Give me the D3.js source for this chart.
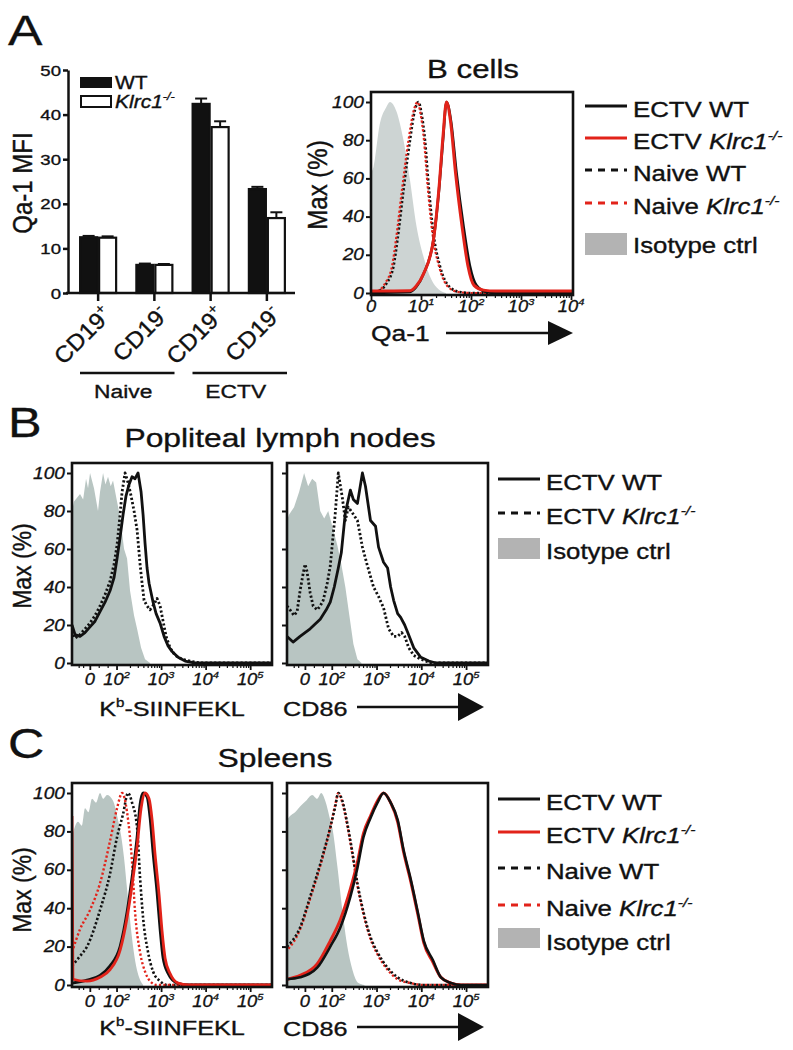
<!DOCTYPE html>
<html><head><meta charset="utf-8">
<script src="https://cdn.jsdelivr.net/npm/d3@7"></script>
<style>
html,body{margin:0;padding:0;background:#fff;}
svg{display:block;font-family:"Liberation Sans",Arial,sans-serif;}
</style></head><body>
<svg id="fig" width="793" height="1050"></svg>
<script>
// ---------------- DATA ----------------
// Panel A bar chart (Qa-1 MFI)
const barGroups = ["CD19+ Naive", "CD19- Naive", "CD19+ ECTV", "CD19- ECTV"];
const barSupers = ["+", "-", "+", "-"];
const barSeries = ["WT", "KO"];
const wtMFI = [12.5, 6.3, 42.4, 23.3];
const koMFI = [12.4, 6.3, 37.2, 16.8];
const wtSEM = [0.3, 0.3, 1.2, 0.5];
const koSEM = [0.3, 0.2, 1.3, 1.3];
const mfiTicks = [0, 10, 20, 30, 40, 50];
const pctTicks = [0, 20, 40, 60, 80, 100];

// Histogram x ticks (display decades)
const qaTicks = [[0, "0", ""], [1, "10", "1"], [2, "10", "2"], [3, "10", "3"], [4, "10", "4"]];
const biexTicks = [[1.4, "0", ""], [2, "10", "2"], [3, "10", "3"], [4, "10", "4"], [5, "10", "5"]];

// Panel A histogram: Qa-1 on B cells  [decade, Max %]
const qaIso = [[0,63],[0.05,66],[0.18,89],[0.3,97],[0.38,100],[0.51,95],[0.65,80],[0.78,59],[0.91,35],[1.05,19],[1.21,7],[1.35,2],[1.5,0]];
const qaNaiveWT = [[0,0],[0.11,0.5],[0.31,5],[0.45,14],[0.53,28],[0.65,54],[0.78,80],[0.88,96],[0.95,100],[1.01,94],[1.08,80],[1.15,57],[1.25,31],[1.38,14],[1.58,3],[1.78,0.5],[2.0,0],[4.04,0]];
const qaNaiveKO = [[0,0],[0.1,0.5],[0.28,5],[0.42,14],[0.5,28],[0.62,54],[0.75,80],[0.86,96],[0.93,100],[0.99,94],[1.06,80],[1.13,57],[1.23,31],[1.36,14],[1.55,3],[1.75,0.5],[2.0,0],[4.04,0]];
const qaEctvWT = [[0,0],[0.78,0.5],[0.9,3],[1.05,10],[1.25,28],[1.36,54],[1.44,80],[1.51,100],[1.6,90],[1.71,63],[1.85,35],[1.98,14],[2.11,4],[2.31,0.5],[2.5,0],[4.04,0]];
const qaEctvKO = [[0,1],[0.78,1.2],[0.9,3.5],[1.05,10],[1.25,28],[1.36,55],[1.44,82],[1.51,100],[1.59,90],[1.69,63],[1.82,35],[1.94,14],[2.06,4],[2.25,1.5],[2.5,1],[4.04,1]];

// Panel B: popliteal lymph nodes
const lnKbIso = [[1.00,80],[1.045,85],[1.18,89],[1.25,86],[1.315,97],[1.36,92],[1.405,100],[1.494,92],[1.584,80],[1.629,90],[1.697,100],[1.75,94],[1.809,98],[1.87,93],[1.921,96],[2.011,85],[2.079,77],[2.169,60],[2.236,55],[2.303,38],[2.393,25],[2.461,18],[2.551,8],[2.64,2],[2.753,0]];
const lnKbWT = [[1.00,20],[1.067,15],[1.18,14],[1.292,16],[1.404,19],[1.517,22],[1.629,27],[1.742,32],[1.854,38],[1.944,45],[2.011,55],[2.079,66],[2.146,78],[2.213,88],[2.281,94],[2.348,98],[2.416,97],[2.483,100],[2.551,90],[2.596,78],[2.64,63],[2.685,50],[2.73,42],[2.775,37],[2.82,32],[2.888,26],[2.978,21],[3.067,14],[3.157,9],[3.247,6],[3.382,3],[3.539,1],[3.764,0],[5.5,0]];
const lnKbKO = [[1.00,17],[1.067,13],[1.18,15],[1.292,18],[1.404,21],[1.517,25],[1.629,30],[1.742,36],[1.854,43],[1.944,52],[2.011,62],[2.079,78],[2.124,90],[2.191,100],[2.258,95],[2.326,88],[2.393,80],[2.461,70],[2.528,52],[2.573,42],[2.618,33],[2.685,30],[2.753,28],[2.843,31],[2.91,34],[2.978,30],[3.045,22],[3.112,14],[3.202,8],[3.315,4],[3.472,2],[3.652,1],[3.876,0],[5.5,0]];
const lnCdIso = [[1.00,75],[1.045,78],[1.157,82],[1.27,90],[1.382,100],[1.472,93],[1.562,97],[1.652,95],[1.742,80],[1.831,76],[1.921,80],[2.011,72],[2.124,62],[2.213,52],[2.303,40],[2.393,25],[2.483,10],[2.573,2],[2.663,0]];
const lnCdWT = [[1.00,14],[1.135,11],[1.292,14],[1.517,18],[1.742,23],[1.876,28],[1.966,32],[2.056,40],[2.146,50],[2.213,58],[2.303,79],[2.416,91],[2.483,86],[2.573,84],[2.685,100],[2.753,93],[2.865,75],[2.978,72],[3.045,61],[3.157,53],[3.247,50],[3.315,40],[3.382,33],[3.472,26],[3.539,24],[3.629,20],[3.697,16],[3.831,8],[3.989,3],[4.169,1],[4.326,0],[5.5,0]];
const lnCdKO = [[1.00,30],[1.067,28],[1.157,25],[1.225,27],[1.292,38],[1.36,47],[1.404,52],[1.449,48],[1.517,37],[1.584,30],[1.674,28],[1.742,30],[1.809,33],[1.899,42],[1.966,51],[2.034,68],[2.079,79],[2.146,100],[2.236,87],[2.303,75],[2.371,82],[2.461,79],[2.573,75],[2.685,61],[2.798,51],[2.933,40],[3.045,35],[3.157,29],[3.27,18],[3.382,14],[3.472,14],[3.562,16],[3.629,14],[3.719,8],[3.831,4],[3.989,2],[4.213,0],[5.5,0]];

// Panel C: spleens
const spKbIso = [[1.00,77],[1.135,85],[1.22,83],[1.292,92],[1.37,90],[1.449,97],[1.54,95],[1.629,100],[1.7,97],[1.787,99],[1.921,96],[2.034,86],[2.101,78],[2.169,66],[2.236,50],[2.303,34],[2.371,20],[2.438,10],[2.506,4],[2.596,0]];
const spKbWT = [[1.00,1],[1.337,2.5],[1.629,5],[1.854,10],[2.079,20],[2.236,38],[2.348,56],[2.461,77],[2.528,94],[2.596,100],[2.685,98],[2.753,87],[2.82,69],[2.91,48],[2.978,29],[3.045,14],[3.157,6],[3.36,1],[3.584,0],[5.5,0]];
const spKbKO = [[1.00,88],[1.02,3],[1.337,2],[1.629,4],[1.854,8],[2.079,18],[2.236,35],[2.348,52],[2.461,72],[2.551,92],[2.64,100],[2.73,97],[2.798,86],[2.865,68],[2.955,47],[3.022,28],[3.09,14],[3.202,6],[3.382,1],[3.607,0],[5.5,0]];
const spKbNaiveWT = [[1.00,10],[1.18,15],[1.337,20],[1.629,39],[1.854,58],[2.011,77],[2.146,89],[2.258,100],[2.348,95],[2.461,82],[2.528,56],[2.596,35],[2.708,17],[2.82,7],[2.978,2],[3.135,0],[5.5,0]];
const spKbNaiveKO = [[1.00,17],[1.18,29],[1.404,39],[1.629,53],[1.854,75],[2.011,92],[2.124,100],[2.236,90],[2.348,64],[2.416,38],[2.528,17],[2.64,7],[2.753,2],[2.91,0],[5.5,0]];
const spCdIso = [[1.00,86],[1.067,88],[1.18,90],[1.292,93],[1.427,96],[1.562,99],[1.674,97],[1.764,100],[1.854,96],[1.966,86],[2.011,82],[2.124,62],[2.236,39],[2.348,20],[2.461,8],[2.596,1],[2.73,0]];
const spCdNaiveWT = [[1.00,20],[1.292,30],[1.517,46],[1.742,63],[1.966,82],[2.079,93],[2.146,100],[2.236,96],[2.348,84],[2.461,69],[2.573,53],[2.708,38],[2.865,25],[3.022,17],[3.247,9],[3.472,4],[3.764,1],[4.056,0],[5.5,0]];
const spCdNaiveKO = [[1.00,18],[1.292,29],[1.517,45],[1.742,62],[1.966,82],[2.079,94],[2.146,100],[2.236,95],[2.348,83],[2.461,68],[2.573,52],[2.708,37],[2.865,24],[3.022,16],[3.247,8],[3.472,3],[3.764,1],[4.056,0],[5.5,0]];
const spCdWT = [[1.00,3],[1.292,4],[1.674,9],[1.966,20],[2.191,30],[2.416,46],[2.573,61],[2.708,77],[2.865,87],[3.022,95],[3.157,100],[3.315,95],[3.472,86],[3.607,70],[3.764,55],[3.921,38],[4.056,23],[4.258,13],[4.438,4],[4.663,1],[4.888,0],[5.5,0]];
const spCdKO = [[1.00,3],[1.292,5],[1.674,11],[1.966,23],[2.191,34],[2.416,50],[2.573,64],[2.708,79],[2.865,88],[3.022,96],[3.157,100],[3.315,95],[3.472,85],[3.607,69],[3.764,54],[3.921,37],[4.056,22],[4.258,12],[4.438,4],[4.663,1],[4.888,0],[5.5,0]];

// Legend labels
const legFull = ["ECTV WT", "ECTV Klrc1", "Naive WT", "Naive Klrc1", "Isotype ctrl"];
const legLN = ["ECTV WT", "ECTV Klrc1", "Isotype ctrl"];

// ---------------- DRAWING ----------------
const svg = d3.select("#fig");
const INK = "#111";
const RED = "#e2231a";
const GRAY_A = "#cdd4d3";
const GRAY_BC = "#b8c5c2";
const GRAY_LEG = "#b3b3b3";

function T(parent, x, y, parts, o = {}) {
  const size = o.size || 16;
  const sx = o.sx ?? 1.2, sy = o.sy ?? 1;
  let tf = `translate(${x},${y})`;
  if (o.rot) tf += ` rotate(${o.rot})`;
  tf += ` scale(${sx},${sy})`;
  const t = parent.append("text").attr("transform", tf)
    .attr("text-anchor", o.anchor || "start")
    .attr("font-size", size).attr("fill", INK)
    .attr("stroke", INK).attr("stroke-width", o.sw ?? 0.35);
  if (o.italic) t.attr("font-style", "italic");
  if (typeof parts === "string") parts = [parts];
  let raised = false;
  parts.forEach(p => {
    if (typeof p === "string") p = { t: p };
    const s = t.append("tspan").text(p.t);
    if (p.italic) s.attr("font-style", "italic");
    if (p.sup) { s.attr("font-size", size * 0.6).attr("dy", -size * 0.42); raised = true; }
    else if (raised) { s.attr("dy", size * 0.42); raised = false; }
  });
  return t;
}
const klrc = (prefix) => [prefix + " ", { t: "Klrc1", italic: true }, { t: "-/-", sup: true, italic: true }];
function legendParts(s) {
  if (s.endsWith("Klrc1")) return klrc(s.replace(" Klrc1", ""));
  return [s];
}

// Panel letters
T(svg, 8, 45, "A", { size: 43, sw: 0.3 });
T(svg, 8, 437, "B", { size: 42, sw: 0.3 });
T(svg, 8, 758, "C", { size: 42, sw: 0.3 });

// ===== Panel A bar chart =====
const gA = svg.append("g");
const yBar = d3.scaleLinear().domain([0, 50]).range([293, 70]);
const xBar = d3.scaleBand().domain(barGroups).range([70, 295]);
const xSub = d3.scaleBand().domain(barSeries).range([0, 38]);
const vals = { WT: wtMFI, KO: koMFI }, errs = { WT: wtSEM, KO: koSEM };

barGroups.forEach((gname, i) => {
  const c = xBar(gname) + xBar.bandwidth() / 2 - 19;
  barSeries.forEach(k => {
    const v = vals[k][i], e = errs[k][i];
    const x = c + xSub(k), w = xSub.bandwidth();
    const cx = x + w / 2;
    gA.append("line").attr("x1", cx).attr("x2", cx).attr("y1", yBar(v)).attr("y2", yBar(v + e))
      .attr("stroke", INK).attr("stroke-width", 2);
    gA.append("line").attr("x1", cx - 6).attr("x2", cx + 6).attr("y1", yBar(v + e)).attr("y2", yBar(v + e))
      .attr("stroke", INK).attr("stroke-width", 2);
    gA.append("rect").attr("x", x + 1).attr("y", yBar(v)).attr("width", w - 2)
      .attr("height", yBar(0) - yBar(v))
      .attr("fill", k === "WT" ? INK : "#fff").attr("stroke", INK).attr("stroke-width", 2.2);
  });
});
// axes
const yAx = gA.append("g").attr("transform", "translate(68,0)")
  .call(d3.axisLeft(yBar).tickValues(mfiTicks).tickSize(5).tickSizeOuter(0).tickFormat(""));
const xAx = gA.append("g").attr("transform", `translate(0,${yBar(0)})`)
  .call(d3.axisBottom(xBar).tickSize(8).tickSizeOuter(0).tickFormat(""));
[yAx, xAx].forEach(a => { a.selectAll("path,line").attr("stroke", INK).attr("stroke-width", 2.5); });
xAx.select(".domain").attr("d", `M66,0H295`);
mfiTicks.forEach(v => T(gA, 61, yBar(v) + 5.5, String(v), { anchor: "end", size: 15.5 }));
T(gA, 32, 183, "Qa-1 MFI", { rot: -90, anchor: "middle", size: 24, sx: 1, sy: 1.15 });
barGroups.forEach((gname, i) => {
  const c = xBar(gname) + xBar.bandwidth() / 2;
  T(gA, c + 15, 316, ["CD19", { t: barSupers[i], sup: true }], { rot: -45, anchor: "end", size: 23, sx: 1.05 });
});
// group brackets
const grpSpans = [["Naive", 0, 1], ["ECTV", 2, 3]];
grpSpans.forEach(([lab, a, b]) => {
  const x1 = xBar(barGroups[a]) + 10, x2 = xBar(barGroups[b]) + xBar.bandwidth() - 8;
  gA.append("line").attr("x1", x1).attr("x2", x2).attr("y1", 373).attr("y2", 373)
    .attr("stroke", INK).attr("stroke-width", 2.5);
  T(gA, (x1 + x2) / 2 - 4, 398, lab, { anchor: "middle", size: 19 });
});
// bar legend
gA.append("rect").attr("x", 80).attr("y", 77).attr("width", 32).attr("height", 11).attr("fill", INK);
gA.append("rect").attr("x", 81).attr("y", 96).attr("width", 30).attr("height", 11).attr("fill", "#fff").attr("stroke", INK).attr("stroke-width", 2);
T(gA, 115, 88.5, "WT", { size: 17.5 });
T(gA, 115, 107.5, [{ t: "Klrc1", italic: true }, { t: "-/-", sup: true, italic: true }], { size: 17.5 });

// ===== Histogram helper =====
let clipN = 0;
function hist(g, cfg) {
  const { L, W, top, y0, xdom, isoFill, iso, series, curve, showY, ticks, lblOff, minor } = cfg;
  const x = d3.scaleLinear().domain(xdom).range([L, L + W]);
  const y = d3.scaleLinear().domain([0, 100]).range([y0, top + 10]);
  const bottom = y0 + 2;
  const id = "clip" + (clipN++);
  g.append("clipPath").attr("id", id).append("rect")
    .attr("x", L).attr("y", top).attr("width", W).attr("height", bottom - top);
  const pg = g.append("g").attr("clip-path", `url(#${id})`);
  const area = d3.area().x(d => x(d[0])).y0(y(0) + 2).y1(d => y(d[1])).curve(curve);
  const line = d3.line().x(d => x(d[0])).y(d => y(d[1])).curve(curve);
  pg.append("path").attr("d", area(iso)).attr("fill", isoFill);
  series.forEach(s => {
    pg.append("path").attr("d", line(s.data)).attr("fill", "none")
      .attr("stroke", s.color).attr("stroke-width", s.w || 2.6)
      .attr("stroke-dasharray", s.dash ? "2.2,2.2" : null)
      .attr("stroke-dashoffset", s.off || 0)
      .attr("stroke-linejoin", "round");
  });
  g.append("rect").attr("x", L).attr("y", top).attr("width", W).attr("height", bottom - top)
    .attr("fill", "none").attr("stroke", INK).attr("stroke-width", 2.6);
  // y ticks
  const ya = g.append("g").attr("transform", `translate(${L - 1},0)`)
    .call(d3.axisLeft(y).tickValues(pctTicks).tickSize(4).tickSizeOuter(0).tickFormat(""));
  ya.select(".domain").remove();
  ya.selectAll("line").attr("stroke", INK).attr("stroke-width", 2);
  if (showY) pctTicks.forEach(v => T(g, L - 7, y(v) + 5.5, String(v), { anchor: "end", size: 16, italic: true, sw: 0.3 }));
  // x ticks
  const xa = g.append("g").attr("transform", `translate(0,${bottom})`)
    .call(d3.axisBottom(x).tickValues(ticks.map(t => t[0])).tickSize(5).tickSizeOuter(0).tickFormat(""));
  xa.select(".domain").remove();
  xa.selectAll("line").attr("stroke", INK).attr("stroke-width", 1.8);
  const xm = g.append("g").attr("transform", `translate(0,${bottom})`)
    .call(d3.axisBottom(x).tickValues(minor).tickSize(3).tickSizeOuter(0).tickFormat(""));
  xm.select(".domain").remove();
  xm.selectAll("line").attr("stroke", INK).attr("stroke-width", 1.2);
  ticks.forEach(([d, b, s]) => {
    const parts = s ? [b, { t: s, sup: true }] : [b];
    T(g, x(d), bottom + lblOff, parts, { anchor: "middle", size: 16, italic: true, sx: 1.15, sw: 0.3 });
  });
  return { x, y };
}
const logMinor = (from, to) => {
  const out = [];
  for (let n = from; n < to; n++) for (let k = 2; k <= 9; k++) out.push(n + Math.log10(k));
  return out;
};

// ===== Panel A histogram =====
const gH = svg.append("g");
T(gH, 473, 78, "B cells", { anchor: "middle", size: 26 });
hist(gH, {
  L: 371, W: 202, top: 92, y0: 293, xdom: [0, 4.04], isoFill: GRAY_A, iso: qaIso,
  curve: d3.curveMonotoneX, showY: true, ticks: qaTicks, lblOff: 17, minor: logMinor(1, 4),
  series: [
    { data: qaNaiveWT, color: INK, dash: true, w: 2.6 },
    { data: qaNaiveKO, color: RED, dash: true, w: 2.2, off: 2 },
    { data: qaEctvWT, color: INK, w: 2.6 },
    { data: qaEctvKO, color: RED, w: 3 }
  ]
});
T(gH, 327, 185, "Max (%)", { rot: -90, anchor: "middle", size: 24, sx: 1, sy: 1.15 });
T(gH, 371, 341, "Qa-1", { size: 22 });
gH.append("line").attr("x1", 446).attr("x2", 556).attr("y1", 333).attr("y2", 333).attr("stroke", INK).attr("stroke-width", 2.6);
gH.append("path").attr("d", "M548,321L573,333L548,345Z").attr("fill", INK);

function drawLegend(g, x0, items, lineYs, boxY, bases) {
  items.forEach((it, i) => {
    if (it.type === "box") {
      g.append("rect").attr("x", x0).attr("y", boxY[0]).attr("width", 42).attr("height", boxY[1] - boxY[0]).attr("fill", GRAY_LEG);
    } else {
      g.append("line").attr("x1", x0).attr("x2", x0 + 42).attr("y1", lineYs[i]).attr("y2", lineYs[i])
        .attr("stroke", it.color).attr("stroke-width", 3)
        .attr("stroke-dasharray", it.dash ? "7,6" : null);
    }
    T(g, x0 + 48, bases[i], legendParts(it.label), { size: 21.5 });
  });
}
const fullItems = [
  { label: legFull[0], color: INK },
  { label: legFull[1], color: RED },
  { label: legFull[2], color: INK, dash: true },
  { label: legFull[3], color: RED, dash: true },
  { label: legFull[4], type: "box" }
];
drawLegend(gH, 585, fullItems, [106, 138, 170, 203], [233, 255], [117, 149, 181, 214, 253]);

// ===== Panel B =====
const gB = svg.append("g");
T(gB, 280, 447, "Popliteal lymph nodes", { anchor: "middle", size: 26.5 });
const biexMinor = [1.15, 1.25, 1.6, 1.8].concat(logMinor(2, 5));
hist(gB, {
  L: 72, W: 200, top: 463, y0: 663, xdom: [1, 5.49], isoFill: GRAY_BC, iso: lnKbIso,
  curve: d3.curveLinear, showY: true, ticks: biexTicks, lblOff: 20, minor: biexMinor,
  series: [
    { data: lnKbKO, color: INK, dash: true, w: 2.8 },
    { data: lnKbWT, color: INK, w: 2.8 }
  ]
});
hist(gB, {
  L: 287, W: 201, top: 463, y0: 663, xdom: [1, 5.49], isoFill: GRAY_BC, iso: lnCdIso,
  curve: d3.curveLinear, showY: false, ticks: biexTicks, lblOff: 20, minor: biexMinor,
  series: [
    { data: lnCdKO, color: INK, dash: true, w: 2.8 },
    { data: lnCdWT, color: INK, w: 2.8 }
  ]
});
T(gB, 31, 566, "Max (%)", { rot: -90, anchor: "middle", size: 23, sx: 1, sy: 1.15 });
T(gB, 172, 716, ["K", { t: "b", sup: true }, "-SIINFEKL"], { anchor: "middle", size: 21 });
T(gB, 283, 716, "CD86", { size: 21 });
gB.append("line").attr("x1", 357).attr("x2", 466).attr("y1", 707).attr("y2", 707).attr("stroke", INK).attr("stroke-width", 2.6);
gB.append("path").attr("d", "M458,693L484,707L458,721Z").attr("fill", INK);
drawLegend(gB, 498, [
  { label: legLN[0], color: INK },
  { label: legLN[1], color: INK, dash: true },
  { label: legLN[2], type: "box" }
], [479, 513], [538, 559], [490, 524, 559]);

// ===== Panel C =====
const gC = svg.append("g");
T(gC, 275, 767, "Spleens", { anchor: "middle", size: 26.5 });
hist(gC, {
  L: 72, W: 200, top: 783, y0: 985, xdom: [1, 5.49], isoFill: GRAY_BC, iso: spKbIso,
  curve: d3.curveMonotoneX, showY: true, ticks: biexTicks, lblOff: 20, minor: biexMinor,
  series: [
    { data: spKbNaiveWT, color: INK, dash: true, w: 2.6 },
    { data: spKbNaiveKO, color: RED, dash: true, w: 2.4 },
    { data: spKbWT, color: INK, w: 2.8 },
    { data: spKbKO, color: RED, w: 2.8 }
  ]
});
hist(gC, {
  L: 287, W: 201, top: 783, y0: 985, xdom: [1, 5.49], isoFill: GRAY_BC, iso: spCdIso,
  curve: d3.curveMonotoneX, showY: false, ticks: biexTicks, lblOff: 20, minor: biexMinor,
  series: [
    { data: spCdNaiveKO, color: RED, dash: true, w: 2.4, off: 2 },
    { data: spCdNaiveWT, color: INK, dash: true, w: 2.6 },
    { data: spCdKO, color: RED, w: 3 },
    { data: spCdWT, color: INK, w: 2.6 }
  ]
});
T(gC, 31, 890, "Max (%)", { rot: -90, anchor: "middle", size: 23, sx: 1, sy: 1.15 });
T(gC, 172, 1035, ["K", { t: "b", sup: true }, "-SIINFEKL"], { anchor: "middle", size: 21 });
T(gC, 283, 1036, "CD86", { size: 21 });
gC.append("line").attr("x1", 357).attr("x2", 466).attr("y1", 1027).attr("y2", 1027).attr("stroke", INK).attr("stroke-width", 2.6);
gC.append("path").attr("d", "M458,1013L484,1027L458,1041Z").attr("fill", INK);
drawLegend(gC, 498, fullItems, [799, 832, 868, 905], [928, 948], [810, 843, 879, 916, 950]);
</script>
</body></html>
